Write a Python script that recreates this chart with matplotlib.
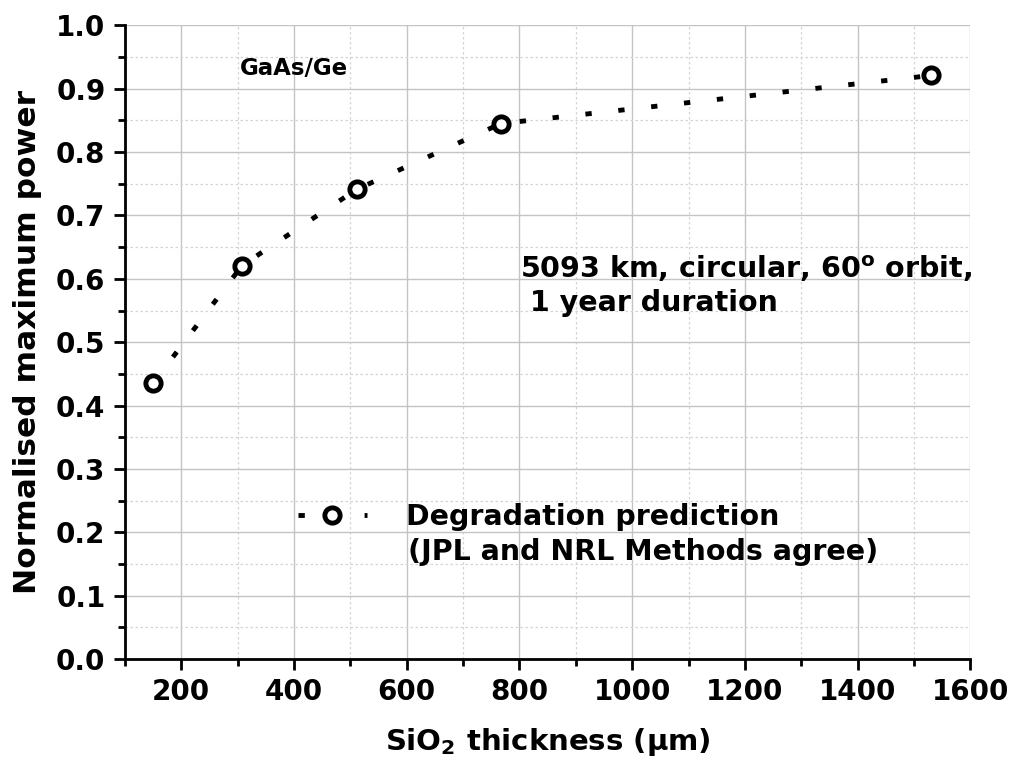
import matplotlib.pyplot as plt
from matplotlib.ticker import MultipleLocator

# Data
thickness = [150, 308, 511, 767, 1531]          # SiO2 thickness (um)
power = [0.435, 0.621, 0.741, 0.845, 0.921]     # normalised maximum power

plt.rcParams['font.family'] = 'DejaVu Sans'
plt.rcParams['font.weight'] = 'bold'

fig = plt.figure(figsize=(10.15, 7.69), dpi=100)
ax = fig.add_axes([0.123, 0.143, 0.833, 0.824])

ax.plot(thickness, power, color='black', linestyle=(0, (1.3, 5.5)), linewidth=3.5,
        marker='o', markersize=11, markerfacecolor='white',
        markeredgecolor='black', markeredgewidth=3.5, label='Degradation prediction')

ax.set_xlim(100, 1600)
ax.set_ylim(0, 1.0)
ax.xaxis.set_minor_locator(MultipleLocator(100))
ax.yaxis.set_major_locator(MultipleLocator(0.1))
ax.yaxis.set_minor_locator(MultipleLocator(0.05))
ax.set_xticks([200, 400, 600, 800, 1000, 1200, 1400, 1600])
ax.yaxis.set_major_formatter(plt.FormatStrFormatter('%.1f'))

ax.grid(which='major', color='#c4c4c4', linewidth=1.0)
ax.grid(which='minor', color='#d4d4d4', linewidth=0.9, linestyle=(0, (2, 2)))
ax.set_axisbelow(True)

for side in ['top', 'right']:
    ax.spines[side].set_visible(False)
for side in ['left', 'bottom']:
    ax.spines[side].set_linewidth(2)

ax.tick_params(which='major', direction='out', length=8, width=2, labelsize=20, pad=6)
ax.tick_params(which='minor', direction='out', length=5, width=2)

ax.set_xlabel('SiO$_\\mathbf{2}$ thickness ($\\mathbf{\\mu}$m)', fontsize=21,
              fontweight='bold', labelpad=14)
ax.set_ylabel('Normalised maximum power', fontsize=22.5, fontweight='bold', labelpad=10)

ax.text(304, 0.932, 'GaAs/Ge', fontsize=16.5, fontweight='bold', va='center')
ax.text(801, 0.59, '5093 km, circular, 60$^\\mathbf{o}$ orbit,\n 1 year duration',
        fontsize=20.5, fontweight='bold', va='center', linespacing=1.25)

ax.legend(loc='center left', bbox_to_anchor=(0.205, 0.224), frameon=False,
          fontsize=20.5, numpoints=1, handlelength=2.4, handletextpad=1.4,
          borderpad=0, borderaxespad=0)
ax.text(0.335, 0.169, '(JPL and NRL Methods agree)', transform=ax.transAxes,
        fontsize=20.5, fontweight='bold', va='center')

fig.savefig('out.png', dpi=100)
